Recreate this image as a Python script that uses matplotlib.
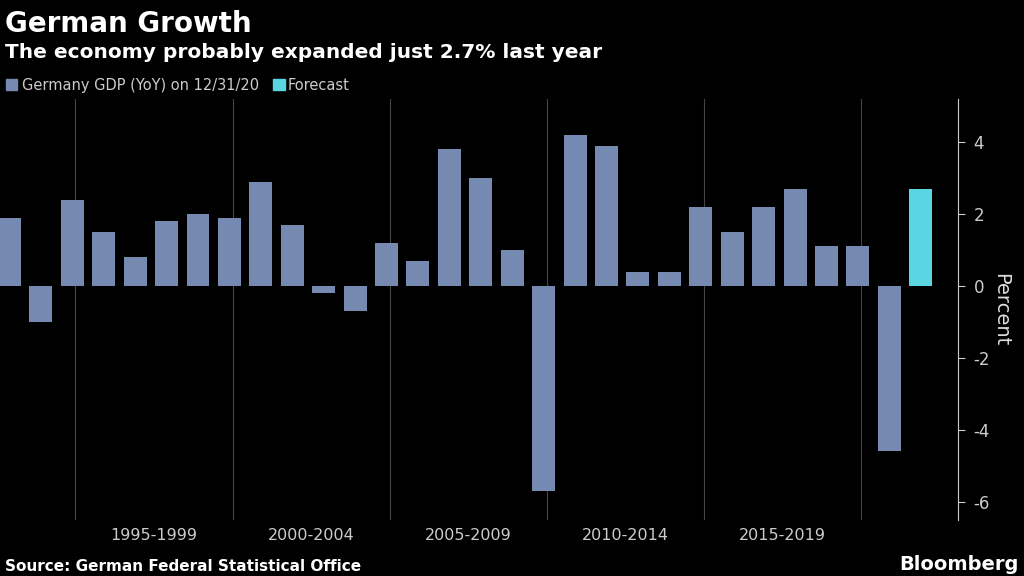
import matplotlib
matplotlib.use("Agg")
import matplotlib.pyplot as plt
import numpy as np

years = list(range(1992, 2022))
values = [1.9, -1.0, 2.4, 1.5, 0.8, 1.8, 2.0, 1.9, 2.9, 1.7, -0.2, -0.7, 1.2, 0.7,
          3.8, 3.0, 1.0, -5.7, 4.2, 3.9, 0.4, 0.4, 2.2, 1.5, 2.2, 2.7, 1.1, 1.1, -4.6, 2.7]
forecast = [False]*29 + [True]
period_labels = ["1995-1999", "2000-2004", "2005-2009", "2010-2014", "2015-2019"]
period_starts = [1995, 2000, 2005, 2010, 2015]

fig = plt.figure(figsize=(10.24, 5.76), dpi=100, facecolor="black")
ax = fig.add_axes([0.0, 0.098, 0.936, 0.73], facecolor="black")
cols = ["#5ad5e2" if f else "#7689b0" for f in forecast]
ax.bar(years, values, width=0.73, color=cols, zorder=2)
ax.set_xlim(1991.7, 2022.2)
ax.set_ylim(-6.5, 5.2)
for s in period_starts + [2020]:
    ax.axvline(s - 0.9, color="#444444", lw=0.8, zorder=1)
ax.set_xticks([s + 1.6 for s in period_starts])
ax.set_xticklabels(period_labels, color="#cccccc", fontsize=11.5)
ax.tick_params(axis="x", length=0, pad=6)
ax.yaxis.tick_right()
ax.yaxis.set_label_position("right")
ax.set_yticks([-6, -4, -2, 0, 2, 4])
ax.set_yticklabels(["-6", "-4", "-2", "0", "2", "4"], color="#dddddd", fontsize=12)
ax.tick_params(axis="y", colors="#cccccc", length=5, pad=6)
ax.set_ylabel("Percent", color="#dddddd", fontsize=14, rotation=270, labelpad=14)
for sp in ["top", "left", "bottom"]:
    ax.spines[sp].set_visible(False)
ax.spines["right"].set_color("#cccccc")

fig.text(0.005, 0.945, "German Growth", color="white", fontsize=20, fontweight="bold")
fig.text(0.005, 0.9, "The economy probably expanded just 2.7% last year", color="white", fontsize=14.5, fontweight="bold")
fig.patches.append(plt.Rectangle((0.006, 0.843), 0.011, 0.02, color="#7689b0", transform=fig.transFigure, figure=fig))
fig.text(0.021, 0.843, "Germany GDP (YoY) on 12/31/20", color="#cccccc", fontsize=10.5)
fig.patches.append(plt.Rectangle((0.267, 0.843), 0.011, 0.02, color="#5ad5e2", transform=fig.transFigure, figure=fig))
fig.text(0.281, 0.843, "Forecast", color="#cccccc", fontsize=10.5)
fig.text(0.005, 0.008, "Source: German Federal Statistical Office", color="white", fontsize=11, fontweight="bold")
fig.text(0.995, 0.01, "Bloomberg", color="white", fontsize=14, fontweight="bold", ha="right")
fig.savefig("out.png", facecolor="black")
